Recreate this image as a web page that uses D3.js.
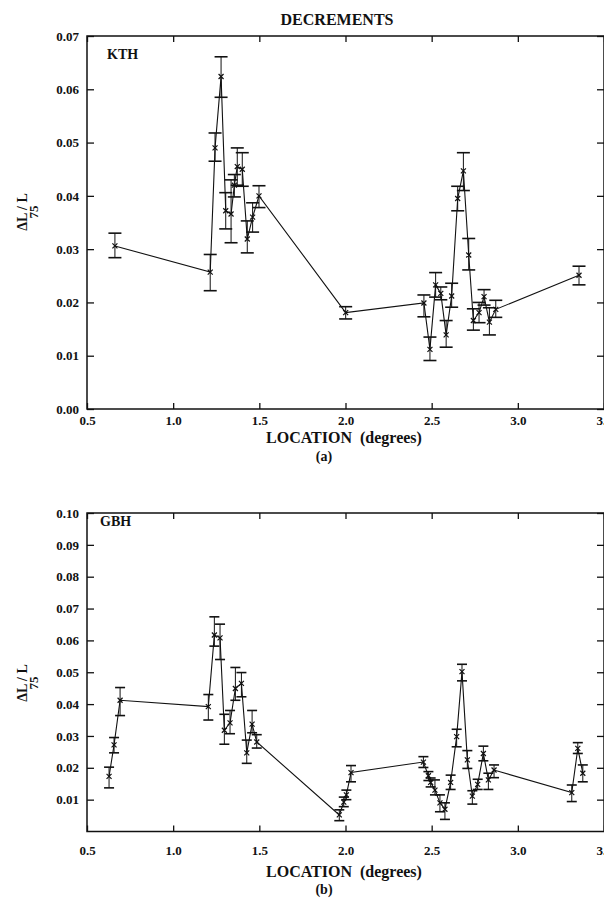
<!DOCTYPE html>
<html>
<head>
<meta charset="utf-8">
<script src="https://cdn.jsdelivr.net/npm/d3@7"></script>
<style>
  body { margin: 0; background: #fff; }
  svg { display: block; }
  text { font-family: "Liberation Serif", "Times New Roman", serif; font-weight: bold; fill: #111; }
</style>
</head>
<body>
<svg id="chart" width="604" height="898"></svg>
<script>
// panel (a) KTH
const kthLoc  = [0.662, 1.215, 1.243, 1.278, 1.305, 1.336, 1.355, 1.372, 1.401, 1.430, 1.461, 1.498,
                 2.001, 2.455, 2.490, 2.523, 2.553, 2.584, 2.616, 2.651, 2.684, 2.715, 2.742, 2.775,
                 2.804, 2.835, 2.872, 3.355]
const kthVal  = [0.0306, 0.0257, 0.0490, 0.0624, 0.0372, 0.0366, 0.0420, 0.0455, 0.0450, 0.0319, 0.0360, 0.0400,
                 0.0181, 0.0199, 0.0112, 0.0233, 0.0217, 0.0139, 0.0212, 0.0395, 0.0447, 0.0289, 0.0166, 0.0181,
                 0.0211, 0.0163, 0.0187, 0.0251]
const kthLow  = [0.0284, 0.0222, 0.0465, 0.0585, 0.0338, 0.0312, 0.0398, 0.0420, 0.0418, 0.0293, 0.0332, 0.0378,
                 0.0169, 0.0173, 0.0091, 0.0210, 0.0205, 0.0116, 0.0191, 0.0372, 0.0410, 0.0261, 0.0148, 0.0162,
                 0.0195, 0.0139, 0.0172, 0.0233]
const kthHigh = [0.0330, 0.0290, 0.0518, 0.0661, 0.0406, 0.0430, 0.0440, 0.0490, 0.0481, 0.0353, 0.0387, 0.0419,
                 0.0192, 0.0214, 0.0135, 0.0256, 0.0229, 0.0166, 0.0236, 0.0418, 0.0481, 0.0320, 0.0188, 0.0200,
                 0.0224, 0.0190, 0.0204, 0.0268]

// panel (b) GBH
const gbhLoc  = [0.628, 0.657, 0.692, 1.204, 1.239, 1.272, 1.297, 1.330, 1.361, 1.396, 1.427, 1.458, 1.485,
                 1.964, 1.990, 2.005, 2.032, 2.452, 2.481, 2.494, 2.519, 2.548, 2.577, 2.610, 2.645, 2.676,
                 2.707, 2.736, 2.767, 2.800, 2.829, 2.862, 3.313, 3.348, 3.377]
const gbhVal  = [0.0173, 0.0272, 0.0412, 0.0392, 0.0617, 0.0608, 0.0318, 0.0341, 0.0449, 0.0465, 0.0247, 0.0337, 0.0281,
                 0.0052, 0.0092, 0.0115, 0.0185, 0.0218, 0.0175, 0.0154, 0.0130, 0.0090, 0.0070, 0.0154, 0.0298, 0.0502,
                 0.0225, 0.0111, 0.0148, 0.0245, 0.0162, 0.0193, 0.0122, 0.0261, 0.0183]
const gbhLow  = [0.0137, 0.0247, 0.0364, 0.0350, 0.0582, 0.0540, 0.0274, 0.0307, 0.0412, 0.0423, 0.0214, 0.0310, 0.0262,
                 0.0034, 0.0078, 0.0100, 0.0156, 0.0201, 0.0160, 0.0140, 0.0115, 0.0062, 0.0038, 0.0132, 0.0266, 0.0473,
                 0.0198, 0.0086, 0.0132, 0.0222, 0.0132, 0.0169, 0.0094, 0.0245, 0.0156]
const gbhHigh = [0.0202, 0.0295, 0.0452, 0.0430, 0.0674, 0.0651, 0.0368, 0.0380, 0.0515, 0.0499, 0.0287, 0.0380, 0.0304,
                 0.0068, 0.0108, 0.0130, 0.0207, 0.0235, 0.0188, 0.0168, 0.0162, 0.0115, 0.0090, 0.0177, 0.0321, 0.0525,
                 0.0254, 0.0128, 0.0164, 0.0268, 0.0183, 0.0209, 0.0146, 0.0279, 0.0209]

// axes
const xTicks = [0.5, 1.0, 1.5, 2.0, 2.5, 3.0, 3.5]
const xTickLabels = ["0.5", "1.0", "1.5", "2.0", "2.5", "3.0", "3.5"]
const kthYTicks = [0, 0.01, 0.02, 0.03, 0.04, 0.05, 0.06, 0.07]
const kthYLabels = ["0.00", "0.01", "0.02", "0.03", "0.04", "0.05", "0.06", "0.07"]
const gbhYTicks = [0.01, 0.02, 0.03, 0.04, 0.05, 0.06, 0.07, 0.08, 0.09, 0.10]
const gbhYLabels = ["0.01", "0.02", "0.03", "0.04", "0.05", "0.06", "0.07", "0.08", "0.09", "0.10"]

const svg = d3.select("#chart")

svg.append("text")
  .attr("x", 337).attr("y", 25)
  .attr("text-anchor", "middle")
  .style("font-size", "16px")
  .text("DECREMENTS")

function zip(loc, val, lo, hi){
  return loc.map((d, i) => ({loc: d, val: val[i], lo: lo[i], hi: hi[i]}))
}

function drawPanel(p){
  const x = d3.scaleLinear().domain([0.5, 3.5]).range([87, 604])
  const y = d3.scaleLinear().domain(p.yDomain).range([p.bottom, p.top])
  const g = svg.append("g")

  // inward ticks on all four sides
  const tickFmt = (vals, labels) => (d) => labels[vals.indexOf(d)]
  g.append("g").attr("transform", `translate(87,0)`)
    .call(d3.axisLeft(y).tickValues(p.yTicks).tickFormat(tickFmt(p.yTicks, p.yLabels))
      .tickSizeInner(-7).tickSizeOuter(0).tickPadding(8))
  g.append("g").attr("transform", `translate(604,0)`)
    .call(d3.axisRight(y).tickValues(p.yTicks).tickFormat("").tickSizeInner(-7).tickSizeOuter(0))
  g.append("g").attr("transform", `translate(0,${p.bottom})`)
    .call(d3.axisBottom(x).tickValues(xTicks).tickFormat(tickFmt(xTicks, xTickLabels))
      .tickSizeInner(-6).tickSizeOuter(0).tickPadding(p.xPad))
  g.append("g").attr("transform", `translate(0,${p.top})`)
    .call(d3.axisTop(x).tickValues(xTicks).tickFormat("").tickSizeInner(-6).tickSizeOuter(0))

  g.selectAll(".domain").remove()
  g.selectAll(".tick line").attr("stroke", "#111").attr("stroke-width", 1.3)
  g.selectAll(".tick text").style("font-size", "13px").attr("fill", "#111")

  g.append("rect")
    .attr("x", 87).attr("y", p.top)
    .attr("width", 604 - 87).attr("height", p.bottom - p.top)
    .attr("fill", "none").attr("stroke", "#111").attr("stroke-width", 1.5)

  const data = zip(p.loc, p.val, p.lo, p.hi)

  // error bars
  const bars = g.append("g").attr("stroke", "#111")
  bars.selectAll("line.eb").data(data).join("line").attr("class", "eb")
    .attr("x1", d => x(d.loc)).attr("x2", d => x(d.loc))
    .attr("y1", d => y(d.lo)).attr("y2", d => y(d.hi))
    .attr("stroke-width", 1)
  for(const key of ["lo", "hi"]){
    bars.selectAll("line.cap-" + key).data(data).join("line").attr("class", "cap-" + key)
      .attr("x1", d => x(d.loc) - p.cap / 2).attr("x2", d => x(d.loc) + p.cap / 2)
      .attr("y1", d => y(d[key])).attr("y2", d => y(d[key]))
      .attr("stroke-width", 1.6)
  }

  g.append("path").datum(data)
    .attr("fill", "none").attr("stroke", "#111").attr("stroke-width", 1.1)
    .attr("d", d3.line().x(d => x(d.loc)).y(d => y(d.val)))

  g.selectAll("path.mk").data(data).join("path").attr("class", "mk")
    .attr("transform", d => `translate(${x(d.loc)},${y(d.val)})`)
    .attr("d", d3.symbol(d3.symbolTimes, 18))
    .attr("fill", "none").attr("stroke", "#111").attr("stroke-width", 1.2)

  // labels
  g.append("text").attr("x", p.nameX).attr("y", p.nameY)
    .style("font-size", "14px").text(p.name)

  g.append("text")
    .attr("transform", `translate(27,${p.labelY}) rotate(-90)`)
    .attr("text-anchor", "middle").style("font-size", "14px")
    .text("\u0394L / L")
  g.append("text")
    .attr("transform", `translate(38,${p.labelY}) rotate(-90)`)
    .attr("text-anchor", "middle").style("font-size", "13px")
    .text("75")

  g.append("text").attr("x", 344).attr("y", p.bottom + p.locDy)
    .attr("text-anchor", "middle").style("font-size", "16px")
    .attr("xml:space", "preserve")
    .text("LOCATION  (degrees)")
  g.append("text").attr("x", 324).attr("y", p.bottom + p.subDy)
    .attr("text-anchor", "middle").style("font-size", "14px")
    .text(p.sub)
}

drawPanel({
  loc: kthLoc, val: kthVal, lo: kthLow, hi: kthHigh,
  yDomain: [0, 0.07], top: 36, bottom: 409,
  yTicks: kthYTicks, yLabels: kthYLabels,
  cap: 13, xPad: 7,
  name: "KTH", nameX: 107, nameY: 59, labelY: 212,
  locDy: 34, subDy: 52, sub: "(a)"
})

drawPanel({
  loc: gbhLoc, val: gbhVal, lo: gbhLow, hi: gbhHigh,
  yDomain: [0, 0.10], top: 513, bottom: 831.5,
  yTicks: gbhYTicks, yLabels: gbhYLabels,
  cap: 10, xPad: 14,
  name: "GBH", nameX: 100, nameY: 526, labelY: 683,
  locDy: 45, subDy: 62, sub: "(b)"
})
</script>
</body>
</html>
